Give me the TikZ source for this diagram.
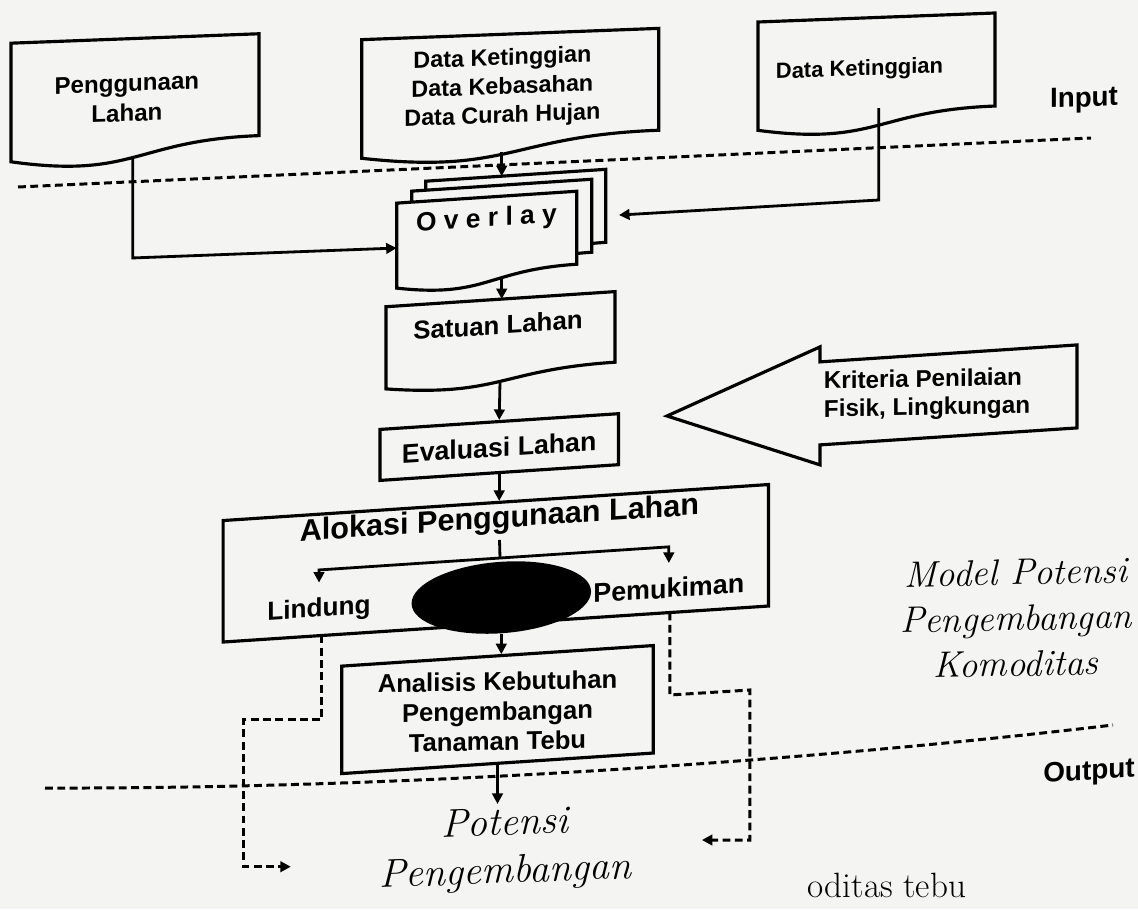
\documentclass[tikz,border=0pt]{standalone}
\usepackage{fontspec}
\newfontfamily\labelfont{Liberation Sans}
\usepackage{tikz}
\usetikzlibrary{arrows.meta,shapes.geometric}
\definecolor{paper}{RGB}{244,244,242}
\newcommand{\lbl}[2]{\labelfont\bfseries\fontsize{#1}{#2}\selectfont}
\newcommand{\scriptlbl}[2]{\itshape\fontsize{#1}{#2}\selectfont}
% document sheet: top left x, top y, width, frame height
\newcommand{\docshape}[4]{%
  \draw[boxline, fill=paper] (#1,#2) -- ({#1+#3},#2) -- ({#1+#3},{#2+0.802*#4})
    .. controls ({#1+0.5*#3},{#2+0.802*#4}) and ({#1+0.5*#3},{#2+1.1075*#4}) .. (#1,{#2+0.934*#4}) -- cycle;}

\begin{document}
\begin{tikzpicture}[
    x=0.02cm, y=-0.02cm,
    >={Triangle[length=6pt,width=6pt]},
    boxline/.style={line width=1.8pt, line join=miter},
    box/.style={draw, line width=1.8pt, fill=paper, inner sep=0pt, align=center},
    txt/.style={align=center, inner sep=0pt},
    arrow/.style={->, line width=1.6pt},
    divider/.style={line width=1.7pt, dash pattern=on 4.5pt off 2.5pt},
    dasharrow/.style={->, line width=1.7pt, dash pattern=on 4.5pt off 2.5pt}
]
\fill[paper] (0,0) rectangle (1138,909);
\useasboundingbox (0,0) rectangle (1138,909);

% ===================== DIVIDERS =====================
\draw[divider] (18,187) -- (1091,138);
\draw[divider] (45,788) .. controls (400,789) and (800,762) .. (1113,725);

% ===================== INPUT =====================
\begin{scope}[yslant=0.038, transform shape]
\docshape{11}{43.6}{248}{127}
\docshape{361.7}{53.4}{297}{127}
\docshape{758}{50.8}{237}{116}
\node[txt, font=\lbl{13.7}{17}] (landuse) at (126.9,103.1) {Penggunaan\\Lahan};
\node[txt, font=\lbl{13.3}{16.4}] (datasrc) at (502.4,107.1) {Data Ketinggian\\Data Kebasahan\\Data Curah Hujan};
\node[txt, font=\lbl{12.5}{15}] (elev) at (859.5,102.7) {Data Ketinggian};
\node[txt, font=\lbl{15.8}{19}] (inputlbl) at (1084,141.2) {Input};
\coordinate (landfoot) at (132.7,162.1);
\coordinate (landbend) at (132.7,263);
\coordinate (stackleft) at (396.7,263.1);
\coordinate (datafoot) at (501.7,171.5);
\node[txt, inner sep=2pt, font=\scriptlbl{22.7}{27.3}] (potensi) at (505,868.7) {Potensi\\Pengembangan};
\end{scope}

% ===================== PROCESS =====================
\begin{scope}[yslant=0.066, transform shape]
\docshape{425.7}{209.3}{180}{91}
\docshape{411.7}{218.3}{180}{91}
\docshape{396.7}{229.3}{180}{91}
\node[txt, font=\lbl{15}{18}] (overlay) at (486.5,252.1) {O v e r l a y};
\coordinate (stacktop) at (501.7,209.3);
\coordinate (stackfoot) at (501.7,310.9);
\coordinate (stackright) at (619,255.9);
\coordinate (elevfoot) at (878.8,166);
\coordinate (elevbend) at (878.8,258);

\docshape{386}{332.2}{229}{88}
\node[txt, font=\lbl{14.7}{17}] (unit) at (498,357.9) {Satuan Lahan};
\coordinate (unittop) at (501.7,332.2);
\coordinate (unitfoot) at (500,414.3);

\node[box, font=\lbl{15.2}{18}, minimum width=4.77cm, minimum height=1.02cm] (eval) at (499.2,480) {Evaluasi Lahan};

\draw[boxline, fill=paper] (667,460) -- (820,401) -- (820,416) -- (1077,416) -- (1077,499) -- (820,499) -- (820,519) -- cycle;

\node[box, minimum width=10.91cm, minimum height=2.43cm] (alloc) at (495.8,596) {};
\node[txt, inner sep=3pt, font=\lbl{17.4}{20}] (alloctitle) at (499.5,553) {Alokasi Penggunaan Lahan};
\node[txt, inner sep=8.5pt, font=\lbl{14.9}{17}] (lindung) at (319,631.2) {Lindung};
\node[txt, inner sep=8.5pt, font=\lbl{15.3}{18}] (pemukiman) at (668.8,632.3) {Pemukiman};
\coordinate (splitL) at (319,591);
\coordinate (splitM) at (500,591);
\coordinate (splitR) at (668.8,591);
\draw[line width=1.6pt] (alloctitle.south) -- (splitM);
\draw[<->, line width=1.6pt] (lindung.north) -- (splitL) -- (splitR) -- (pemukiman.north);
\node[ellipse, fill=black, minimum width=3.59cm, minimum height=1.43cm, inner sep=0pt] (sel) at (501.3,630.6) {};
\coordinate (lindfoot) at (321.7,656.7);
\coordinate (pemfoot) at (669.8,656.7);

\node[box, minimum width=6.23cm, minimum height=2.15cm] (analysis) at (497.5,742.4) {};
\node[txt, font=\lbl{15.9}{18}] (outputlbl) at (1089,844.9) {Output};
\end{scope}

% multi-line labels, less slanted
\begin{scope}[yslant=0.02, transform shape]
\node[txt, align=left, font=\lbl{13.8}{16}] (criteria) at (927,413.3) {Kriteria Penilaian\\Fisik, Lingkungan};
\node[txt, font=\lbl{14.6}{17}] (analysistxt) at (497.5,721.2) {Analisis Kebutuhan\\Pengembangan\\Tanaman Tebu};
\node[txt, font=\scriptlbl{20.9}{26}] (model) at (1016,638.3) {Model Potensi\\Pengembangan\\Komoditas};
\end{scope}

\coordinate (lindout) at (290.8,866.7);
\coordinate (pemout) at (701.9,840);
\node[anchor=base, font=\fontsize{20}{24}\selectfont] (captionbit) at (887,897) {oditas tebu};

% ===================== ARROWS =====================
\draw[arrow] (landfoot) -- (landbend) -- (stackleft);
\draw[arrow] (datafoot) -- (stacktop);
\draw[arrow] (elevfoot) -- (elevbend) -- (stackright);
\draw[arrow] (stackfoot) -- (unittop);
\draw[arrow] (unitfoot) -- (eval.north);
\draw[arrow] (eval.south) -- (eval.south |- alloc.north);
\draw[arrow] (sel.south) -- (sel.south |- analysis.north);
\draw[arrow] (analysis.south) -- (analysis.south |- potensi.north);

\draw[dasharrow] (lindfoot) -- ++(0,84.5) -- ++(-78.2,0) |- (lindout);
\draw[dasharrow] (pemfoot) -- ++(0,82.5) -- ++(80,-5) |- (pemout);

\end{tikzpicture}
\end{document}
